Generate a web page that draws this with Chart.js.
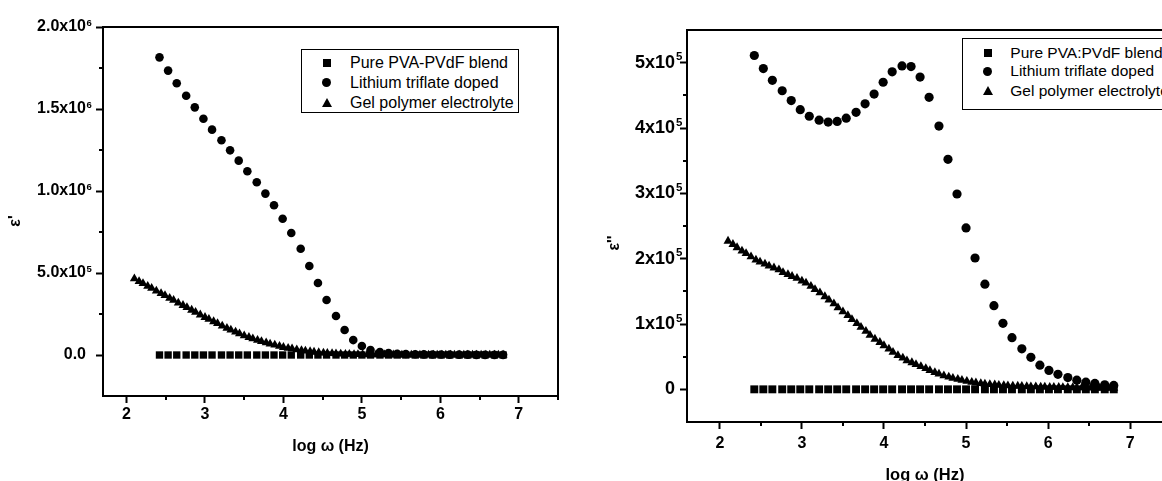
<!DOCTYPE html>
<html><head><meta charset="utf-8">
<script src="https://cdn.jsdelivr.net/npm/chart.js@4.4.1/dist/chart.umd.min.js"></script>
<style>
html,body{margin:0;padding:0;background:#fff;overflow:hidden;width:1162px;height:481px;}
#wrap{position:relative;width:1162px;height:481px;overflow:hidden;background:#fff;}
canvas{position:absolute;top:0;}
.legend{position:absolute;border:1.5px solid #000;box-sizing:border-box;font-family:'Liberation Sans',Arial,sans-serif;color:#000;background:#fff;}
.txt{position:absolute;white-space:nowrap;line-height:1;transform:translateY(-50%);}
.mk{position:absolute;}
</style></head><body><div id="wrap">
<canvas id="c1" width="570" height="481" style="left:0px"></canvas>
<canvas id="c2" width="600" height="490" style="left:575px"></canvas>
<div id="lg1" class="legend"></div>
<div id="lg2" class="legend"></div>
</div>
<script>
// ---------- data ----------
const seriesLeft = ['Pure PVA-PVdF blend', 'Lithium triflate doped', 'Gel polymer electrolyte'];
const seriesRight = ['Pure PVA:PVdF blend', 'Lithium triflate doped', 'Gel polymer electrolyte'];
const xTitle = 'log \u03C9 (Hz)';
const leftYTitle = "\u03B5'";
const rightYTitle = "\u03B5''";

// log omega for blend and lithium-doped samples (40 points)
const logW40 = [2.42, 2.53, 2.64, 2.76, 2.87, 2.98, 3.09, 3.21, 3.32, 3.43, 3.54, 3.66, 3.77, 3.88, 3.99, 4.10, 4.22, 4.33, 4.44, 4.55,
  4.67, 4.78, 4.89, 5.00, 5.11, 5.23, 5.34, 5.45, 5.56, 5.68, 5.79, 5.90, 6.01, 6.12, 6.24, 6.35, 6.46, 6.57, 6.69, 6.80];
// log omega for gel polymer electrolyte (85 points)
const logW85 = [2.10, 2.16, 2.21, 2.27, 2.32, 2.38, 2.44, 2.49, 2.55, 2.60, 2.66, 2.72, 2.77, 2.83, 2.88, 2.94, 3.00, 3.05, 3.11, 3.16,
  3.22, 3.28, 3.33, 3.39, 3.44, 3.50, 3.56, 3.61, 3.67, 3.72, 3.78, 3.83, 3.89, 3.95, 4.00, 4.06, 4.11, 4.17, 4.23, 4.28,
  4.34, 4.39, 4.45, 4.51, 4.56, 4.62, 4.67, 4.73, 4.79, 4.84, 4.90, 4.95, 5.01, 5.07, 5.12, 5.18, 5.23, 5.29, 5.35, 5.40,
  5.46, 5.51, 5.57, 5.63, 5.68, 5.74, 5.79, 5.85, 5.91, 5.96, 6.02, 6.07, 6.13, 6.18, 6.24, 6.30, 6.35, 6.41, 6.46, 6.52,
  6.58, 6.63, 6.69, 6.74, 6.80];

// epsilon' (left)
const epsRealPure = [0, 0, 0, 0, 0, 0, 0, 0, 0, 0, 0, 0, 0, 0, 0, 0, 0, 0, 0, 0,
  0, 0, 0, 0, 0, 0, 0, 0, 0, 0, 0, 0, 0, 0, 0, 0, 0, 0, 0, 0];
const epsRealLi = [1.815e6, 1.734e6, 1.657e6, 1.581e6, 1.510e6, 1.441e6, 1.374e6, 1.309e6, 1.248e6, 1.185e6,
  1.120e6, 1.053e6, 0.984e6, 0.913e6, 0.831e6, 0.744e6, 0.648e6, 0.543e6, 0.439e6, 0.335e6,
  0.238e6, 0.152e6, 0.091e6, 0.055e6, 0.030e6, 0.018e6, 0.012e6, 0.008e6, 0.006e6, 0.005e6,
  0.004e6, 0.003e6, 0.003e6, 0.002e6, 0.002e6, 0.002e6, 0.001e6, 0.001e6, 0.001e6, 0.001e6];
const epsRealGel = [4.65e5, 4.49e5, 4.36e5, 4.20e5, 4.07e5, 3.91e5, 3.76e5, 3.63e5, 3.47e5, 3.34e5,
  3.18e5, 3.03e5, 2.90e5, 2.74e5, 2.61e5, 2.45e5, 2.30e5, 2.18e5, 2.04e5, 1.92e5,
  1.77e5, 1.64e5, 1.53e5, 1.41e5, 1.30e5, 1.18e5, 1.08e5, 1.00e5, 0.91e5, 0.83e5,
  0.75e5, 0.68e5, 0.61e5, 0.54e5, 0.47e5, 0.42e5, 0.38e5, 0.33e5, 0.28e5, 0.25e5,
  0.21e5, 0.18e5, 0.15e5, 0.13e5, 0.11e5, 0.09e5, 0.08e5, 0.065e5, 0.055e5, 0.047e5,
  0.040e5, 0.034e5, 0.030e5, 0.026e5, 0.023e5, 0.020e5, 0.018e5, 0.016e5, 0.014e5, 0.012e5,
  0.011e5, 0.010e5, 0.009e5, 0.008e5, 0.007e5, 0.007e5, 0.006e5, 0.006e5, 0.005e5, 0.005e5,
  0.004e5, 0.004e5, 0.004e5, 0.003e5, 0.003e5, 0.003e5, 0.003e5, 0.002e5, 0.002e5, 0.002e5,
  0.002e5, 0.002e5, 0.002e5, 0.001e5, 0.001e5];

// epsilon'' (right)
const epsImagPure = [0, 0, 0, 0, 0, 0, 0, 0, 0, 0, 0, 0, 0, 0, 0, 0, 0, 0, 0, 0,
  0, 0, 0, 0, 0, 0, 0, 0, 0, 0, 0, 0, 0, 0, 0, 0, 0, 0, 0, 0];
const epsImagLi = [5.11e5, 4.91e5, 4.73e5, 4.57e5, 4.42e5, 4.28e5, 4.18e5, 4.12e5, 4.09e5, 4.10e5,
  4.15e5, 4.24e5, 4.37e5, 4.52e5, 4.70e5, 4.86e5, 4.95e5, 4.94e5, 4.78e5, 4.47e5,
  4.03e5, 3.52e5, 2.99e5, 2.47e5, 2.01e5, 1.61e5, 1.28e5, 1.01e5, 0.79e5, 0.62e5,
  0.49e5, 0.37e5, 0.29e5, 0.23e5, 0.18e5, 0.14e5, 0.11e5, 0.09e5, 0.07e5, 0.06e5];
const epsImagGel = [2.27e5, 2.22e5, 2.17e5, 2.12e5, 2.08e5, 2.03e5, 1.98e5, 1.95e5, 1.92e5, 1.89e5,
  1.86e5, 1.83e5, 1.79e5, 1.76e5, 1.73e5, 1.70e5, 1.66e5, 1.63e5, 1.58e5, 1.53e5,
  1.48e5, 1.42e5, 1.37e5, 1.31e5, 1.25e5, 1.19e5, 1.13e5, 1.07e5, 1.01e5, 0.95e5,
  0.89e5, 0.83e5, 0.77e5, 0.72e5, 0.67e5, 0.62e5, 0.57e5, 0.52e5, 0.48e5, 0.44e5,
  0.41e5, 0.38e5, 0.35e5, 0.32e5, 0.29e5, 0.26e5, 0.235e5, 0.21e5, 0.19e5, 0.17e5,
  0.155e5, 0.14e5, 0.125e5, 0.11e5, 0.10e5, 0.09e5, 0.083e5, 0.076e5, 0.07e5, 0.065e5,
  0.06e5, 0.057e5, 0.053e5, 0.05e5, 0.047e5, 0.044e5, 0.042e5, 0.04e5, 0.038e5, 0.036e5,
  0.034e5, 0.033e5, 0.031e5, 0.03e5, 0.029e5, 0.027e5, 0.026e5, 0.025e5, 0.024e5, 0.022e5,
  0.021e5, 0.02e5, 0.019e5, 0.018e5, 0.017e5];

// ticks
const xTicks = [2, 3, 4, 5, 6, 7];
const xMinor = [2.5, 3.5, 4.5, 5.5, 6.5, 7.5];
const leftYTicks = [0, 5e5, 1e6, 1.5e6, 2e6];
const leftYMant = ['0.0', '5.0x10', '1.0x10', '1.5x10', '2.0x10'];
const leftYExp = ['', '5', '6', '6', '6'];
const leftYMinor = [2.5e5, 7.5e5, 1.25e6, 1.75e6];
const rightYTicks = [0, 1e5, 2e5, 3e5, 4e5, 5e5];
const rightYMant = ['0', '1x10', '2x10', '3x10', '4x10', '5x10'];
const rightYExp = ['', '5', '5', '5', '5', '5'];
const rightYMinor = [0.5e5, 1.5e5, 2.5e5, 3.5e5, 4.5e5];

// ---------- drawing ----------
const FONT = "'Liberation Sans', Arial, Helvetica, sans-serif";
const toPts = (xs, ys) => xs.map((x, i) => ({ x: x, y: ys[i] }));

const deco = {
  id: 'deco',
  afterDraw(chart, args, o) {
    const ctx = chart.ctx, a = chart.chartArea, sx = chart.scales.x, sy = chart.scales.y;
    ctx.save();
    ctx.strokeStyle = '#000'; ctx.fillStyle = '#000';
    ctx.lineWidth = 2;
    ctx.beginPath();
    ctx.moveTo(a.left, a.top); ctx.lineTo(a.right, a.top); ctx.lineTo(a.right, a.bottom);
    ctx.stroke();
    ctx.beginPath();
    o.xMinor.forEach(v => { const p = Math.round(sx.getPixelForValue(v)); ctx.moveTo(p, a.bottom); ctx.lineTo(p, a.bottom + 4); });
    o.yMinor.forEach(v => { const p = Math.round(sy.getPixelForValue(v)); ctx.moveTo(a.left, p); ctx.lineTo(a.left - 4, p); });
    ctx.stroke();
    ctx.textBaseline = 'middle';
    o.yTicks.forEach((v, i) => {
      const p = sy.getPixelForValue(v);
      ctx.font = 'bold ' + o.labelSize + 'px ' + FONT;
      ctx.textAlign = 'right';
      ctx.fillText(o.yMant[i], o.mantRight, p);
      if (o.yExp[i]) {
        ctx.font = 'bold ' + o.expSize + 'px ' + FONT;
        ctx.textAlign = 'left';
        ctx.fillText(o.yExp[i], o.mantRight + o.expDx, p + o.expDy);
      }
    });
    ctx.translate(o.titleX, o.titleY);
    ctx.rotate(-Math.PI / 2);
    ctx.font = 'bold ' + o.titleSize + 'px ' + FONT;
    ctx.textAlign = 'center';
    ctx.fillText(o.yTitle, 0, 0);
    ctx.restore();
  }
};

function makeChart(id, cfg) {
  return new Chart(document.getElementById(id), {
    type: 'scatter',
    data: {
      datasets: [
        { label: cfg.names[0], data: toPts(logW40, cfg.pure), pointStyle: 'rect', pointRadius: cfg.rectR, backgroundColor: '#000', borderWidth: 0 },
        { label: cfg.names[1], data: toPts(logW40, cfg.li), pointStyle: 'circle', pointRadius: cfg.circR, backgroundColor: '#000', borderWidth: 0 },
        { label: cfg.names[2], data: toPts(logW85, cfg.gel), pointStyle: 'triangle', pointRadius: cfg.triR, backgroundColor: '#000', borderWidth: 0 }
      ]
    },
    options: {
      responsive: false, animation: false, events: [], devicePixelRatio: 1,
      layout: { padding: { left: 0, top: cfg.padTop, right: cfg.padRight, bottom: 0 } },
      plugins: { legend: { display: false }, tooltip: { enabled: false }, deco: cfg.deco },
      scales: {
        x: {
          type: 'linear', min: cfg.xMin, max: cfg.xMax,
          afterBuildTicks: s => { s.ticks = xTicks.map(v => ({ value: v })); },
          afterFit: s => { s.height = cfg.xH; },
          ticks: { color: '#000', font: { family: FONT, size: cfg.xFont, weight: 'bold' }, padding: cfg.xPad, maxRotation: 0, autoSkip: false, callback: v => String(v) },
          grid: { display: true, drawOnChartArea: false, drawTicks: true, tickLength: 7, tickWidth: 2, tickColor: '#000' },
          border: { display: true, color: '#000', width: 2 },
          title: { display: true, text: xTitle, color: '#000', font: { family: FONT, size: cfg.xTitleSize, weight: 'bold' }, padding: { top: 0, bottom: cfg.xTitlePad } }
        },
        y: {
          type: 'linear', min: cfg.yMin, max: cfg.yMax,
          afterBuildTicks: s => { s.ticks = cfg.deco.yTicks.map(v => ({ value: v })); },
          afterFit: s => { s.width = cfg.yW; },
          ticks: { display: false },
          grid: { display: true, drawOnChartArea: false, drawTicks: true, tickLength: 7, tickWidth: 2, tickColor: '#000' },
          border: { display: true, color: '#000', width: 2 }
        }
      }
    },
    plugins: [deco]
  });
}

makeChart('c1', {
  names: seriesLeft, pure: epsRealPure, li: epsRealLi, gel: epsRealGel,
  rectR: 5.2, circR: 4.3, triR: 5.2,
  padTop: 27, padRight: 12, xMin: 1.7, xMax: 7.5, xH: 85, xFont: 16, xPad: 2.4, xTitleSize: 16, xTitlePad: 25,
  yMin: -2.5e5, yMax: 2e6, yW: 103,
  deco: { xMinor: xMinor, yMinor: leftYMinor, yTicks: leftYTicks, yMant: leftYMant, yExp: leftYExp,
    labelSize: 16, expSize: 9.5, mantRight: 86, expDx: 0.5, expDy: -3.5,
    yTitle: leftYTitle, titleX: 15.5, titleY: 221, titleSize: 16 }
});

makeChart('c2', {
  names: seriesRight, pure: epsImagPure, li: epsImagLi, gel: epsImagGel,
  rectR: 5.6, circR: 4.6, triR: 5.2,
  padTop: 30, padRight: 12, xMin: 1.6, xMax: 7.4, xH: 68, xFont: 16, xPad: 5, xTitleSize: 16.5, xTitlePad: 5,
  yMin: -0.5e5, yMax: 5.5e5, yW: 112,
  deco: { xMinor: xMinor, yMinor: rightYMinor, yTicks: rightYTicks, yMant: rightYMant, yExp: rightYExp,
    labelSize: 18, expSize: 11.5, mantRight: 100, expDx: 1, expDy: -5.5,
    yTitle: rightYTitle, titleX: 40, titleY: 243, titleSize: 16 }
});

// ---------- legends (HTML, real text) ----------
function buildLegend(id, names, box, rows, mkX, txtX, fontSize) {
  const el = document.getElementById(id);
  el.style.left = box[0] + 'px'; el.style.top = box[1] + 'px';
  el.style.width = box[2] + 'px'; el.style.height = box[3] + 'px';
  el.style.fontSize = fontSize + 'px';
  const shapes = ['sq', 'ci', 'tr'];
  names.forEach((n, i) => {
    const cy = rows[i];
    const m = document.createElement('div');
    m.className = 'mk';
    if (shapes[i] === 'sq') {
      m.style.cssText = `left:${mkX - 4}px;top:${cy - 4}px;width:8px;height:8px;background:#000;`;
    } else if (shapes[i] === 'ci') {
      m.style.cssText = `left:${mkX - 4.5}px;top:${cy - 4.5}px;width:9px;height:9px;background:#000;border-radius:50%;`;
    } else {
      m.style.cssText = `left:${mkX - 5}px;top:${cy - 5}px;width:0;height:0;border-left:5px solid transparent;border-right:5px solid transparent;border-bottom:9px solid #000;`;
    }
    el.appendChild(m);
    const t = document.createElement('div');
    t.className = 'txt';
    t.style.left = txtX + 'px'; t.style.top = cy + 'px';
    t.textContent = n;
    el.appendChild(t);
  });
}
buildLegend('lg1', seriesLeft, [300.5, 49, 218, 64], [12.7, 32.7, 52.7], 25, 48.5, 16);
buildLegend('lg2', seriesRight, [961.5, 38, 260, 72], [13.5, 32, 52], 25, 47.8, 15.5);
</script>
</body></html>
